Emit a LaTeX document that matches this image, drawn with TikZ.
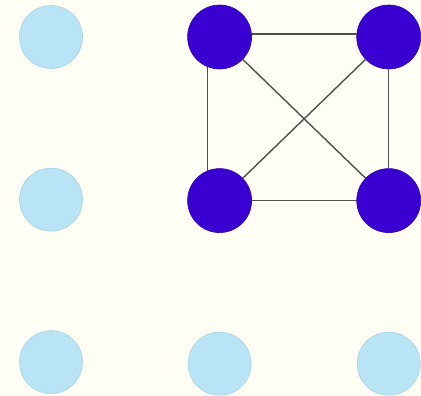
\documentclass[tikz,border=0pt]{standalone}
\usepackage{tikz}
\usetikzlibrary{positioning}

\definecolor{paper}{RGB}{255,254,244}
\definecolor{pale}{RGB}{184,228,246}
\definecolor{paleedge}{RGB}{165,212,226}
\definecolor{deep}{RGB}{58,0,210}
\definecolor{wire}{RGB}{80,80,76}

\begin{document}
\begin{tikzpicture}[x=1pt, y=1pt, node distance=99pt and 104.5pt, line width=1.4pt]
        \tikzset{
            idle/.style={circle, fill=pale, draw=paleedge, line width=0.6pt, minimum size=63pt, inner sep=0pt},
            busy/.style={circle, fill=deep, draw=deep!85!black, line width=0.6pt, minimum size=64pt, inner sep=0pt},
        }
        \fill[paper] (0,0) rectangle (421,396);
        \useasboundingbox (0,0) rectangle (421,396);

        \node[idle] (A1) at (51,359) {};
        \node[busy] (B1) [right=of A1] {};
        \node[busy] (C1) [right=of B1] {};
        \node[idle] (A2) [below=of A1] {};
        \node[busy] (B2) [below=of B1] {};
        \node[busy] (C2) [below=of C1] {};
        \node[idle] (A3) [below=of A2] {};
        \node[idle] (B3) [below=of B2] {};
        \node[idle] (C3) [below=of C2] {};

        \draw[wire] (B1.5) -- (C1.175);
        \draw[wire] (B2) -- (C2);
        \draw[wire] (B1.248) -- (B2.112);
        \draw[wire] (C1) -- (C2);
        \draw[wire] (B1) -- (C2);
        \draw[wire] (C1) -- (B2);
    \end{tikzpicture}
\end{document}
